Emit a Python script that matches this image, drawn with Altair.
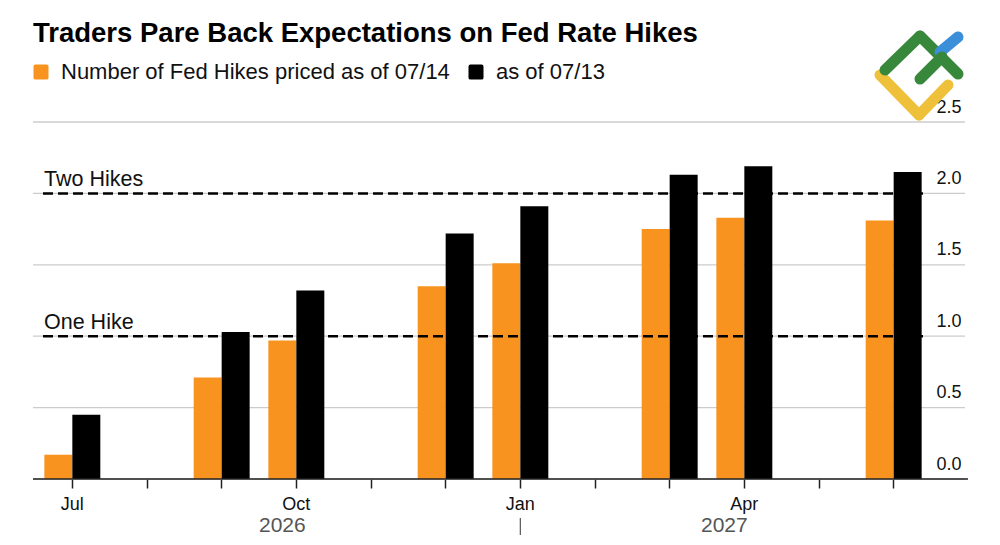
import altair as alt
import pandas as pd

FONT = "Liberation Sans"

title_text = "Traders Pare Back Expectations on Fed Rate Hikes"
series = ["Number of Fed Hikes priced as of 07/14", "as of 07/13"]
colors = ["#F7931E", "#000000"]

months = ["2026-07", "2026-08", "2026-09", "2026-10", "2026-11", "2026-12",
          "2027-01", "2027-02", "2027-03", "2027-04", "2027-05", "2027-06"]
month_labels = {"2026-07": "Jul", "2026-10": "Oct", "2027-01": "Jan", "2027-04": "Apr"}

meeting_months = ["2026-07", "2026-09", "2026-10", "2026-12",
                  "2027-01", "2027-03", "2027-04", "2027-06"]
hikes_0714 = [0.17, 0.71, 0.97, 1.35, 1.51, 1.75, 1.83, 1.81]
hikes_0713 = [0.45, 1.03, 1.32, 1.72, 1.91, 2.13, 2.19, 2.15]

ref_values = [1, 2]
ref_labels = ["One Hike", "Two Hikes"]
y_ticks = [0, 0.5, 1.0, 1.5, 2.0, 2.5]

# decorative logo (pixel segments in plot coordinates)
logo_x1 = [845, 884, 850, 885, 905]
logo_y1 = [-47, -7, -52, -86, -70]
logo_x2 = [884, 913, 885, 923, 923]
logo_y2 = [-7, -37, -86, -48, -85]
logo_c = ["#EFC03A", "#EFC03A", "#37883A", "#37883A", "#3B8ED8"]
logo2_x1 = [885]
logo2_y1 = [-43]
logo2_x2 = [907]
logo2_y2 = [-65]

rows = []
for m, a, b in zip(meeting_months, hikes_0714, hikes_0713):
    rows.append({"month": m, "series": series[0], "value": a})
    rows.append({"month": m, "series": series[1], "value": b})
df = pd.DataFrame(rows)

label_expr = " : ".join(
    f"datum.value == '{k}' ? '{v}'" for k, v in month_labels.items()
) + " : ''"

xscale = alt.Scale(domain=months, range=[0, 896], paddingInner=0, paddingOuter=0)
yscale = alt.Scale(domain=[0, 2.5], nice=False, zero=True)

rounded_square = ("M -0.75,-1 L 0.75,-1 Q 1,-1 1,-0.75 L 1,0.75 Q 1,1 0.75,1 "
                  "L -0.75,1 Q -1,1 -1,0.75 L -1,-0.75 Q -1,-1 -0.75,-1 Z")

grid_df = pd.DataFrame({"value": y_ticks})
grid = alt.Chart(grid_df).mark_rule(color="#cccccc", strokeWidth=1.3).encode(
    y=alt.Y("value:Q", scale=yscale), x=alt.value(-2), x2=alt.value(930))

bars = alt.Chart(df).mark_bar().encode(
    x=alt.X("month:N", scale=xscale, title=None,
            axis=alt.Axis(labelExpr=label_expr, domain=False, grid=False,
                          ticks=True, tickColor="#222222", tickSize=9, tickWidth=1.5,
                          labelFontSize=18, labelColor="#111111", labelAngle=0,
                          labelPadding=7)),
    xOffset=alt.XOffset("series:N", scale=alt.Scale(domain=series, paddingInner=0,
                                                   paddingOuter=0.334)),
    y=alt.Y("value:Q", scale=yscale, title=None,
            axis=alt.Axis(orient="right", values=y_ticks, format=".1f", grid=False,
                          domain=False, ticks=False, tickSize=0, labelFontSize=18,
                          labelColor="#111111", labelAlign="right",
                          labelBaseline="alphabetic", labelPadding=-4,
                          labelOffset=-10, labelFlush=False)),
    color=alt.Color("series:N", scale=alt.Scale(domain=series, range=colors),
                    legend=alt.Legend(orient="none", legendX=-5, legendY=-61,
                                      direction="horizontal", title=None,
                                      symbolType=rounded_square, symbolSize=225,
                                      symbolStrokeWidth=0, labelFontSize=22,
                                      labelColor="#111111", labelOffset=9,
                                      columnPadding=15, padding=0, labelLimit=600)),
)

ref_df = pd.DataFrame({"value": ref_values, "label": ref_labels})
ref_rules = alt.Chart(ref_df).mark_rule(
    color="#000000", strokeWidth=2.5, strokeDash=[10, 5]
).encode(y=alt.Y("value:Q", scale=yscale), x=alt.value(8), x2=alt.value(888))

ref_text = alt.Chart(ref_df).mark_text(
    align="left", baseline="alphabetic", dy=-7, fontSize=21.5, color="#111111"
).encode(y=alt.Y("value:Q", scale=yscale), x=alt.value(9), text="label:N")

base_df = pd.DataFrame({"value": [0]})
baseline = alt.Chart(base_df).mark_rule(color="#222222", strokeWidth=1.5).encode(
    y=alt.Y("value:Q", scale=yscale), x=alt.value(-2), x2=alt.value(933))

y26 = alt.Chart(pd.DataFrame({"month": ["2026-10"], "label": ["2026"]})).mark_text(
    baseline="alphabetic", dx=-14, fontSize=21, color="#555555"
).encode(x=alt.X("month:N", scale=xscale), y=alt.value(410), text="label:N")

y27 = alt.Chart(pd.DataFrame({"month": ["2027-04"], "label": ["2027"]})).mark_text(
    baseline="alphabetic", dx=-20, fontSize=21, color="#555555"
).encode(x=alt.X("month:N", scale=xscale), y=alt.value(410), text="label:N")

sep = alt.Chart(pd.DataFrame({"month": ["2027-01"]})).mark_rule(
    color="#555555", strokeWidth=1.2
).encode(x=alt.X("month:N", scale=xscale), y=alt.value(396), y2=alt.value(413))

title_mark = alt.Chart(pd.DataFrame({"t": [title_text]})).mark_text(
    align="left", baseline="alphabetic", fontSize=27.5, fontWeight="bold", color="#000000"
).encode(x=alt.value(-2), y=alt.value(-80), text="t:N")

logo_df = pd.DataFrame({"x1": logo_x1, "y1": logo_y1, "x2": logo_x2, "y2": logo_y2,
                        "c": logo_c})
logo = alt.Chart(logo_df).mark_rule(strokeWidth=11, strokeCap="round").encode(
    x=alt.X("x1:Q", scale=None), y=alt.Y("y1:Q", scale=None),
    x2="x2:Q", y2="y2:Q", color=alt.Color("c:N", scale=None))
logo2_df = pd.DataFrame({"x1": logo2_x1, "y1": logo2_y1, "x2": logo2_x2, "y2": logo2_y2})
logo2 = alt.Chart(logo2_df).mark_rule(strokeWidth=11, strokeCap="round",
                                      color="#37883A").encode(
    x=alt.X("x1:Q", scale=None), y=alt.Y("y1:Q", scale=None),
    x2="x2:Q", y2="y2:Q")

chart = alt.layer(
    grid, bars, ref_rules, ref_text, baseline, y26, y27, sep, title_mark, logo, logo2
).properties(
    width=930, height=357,
    padding={"left": 35, "top": 122, "right": 35, "bottom": 66},
    autosize=alt.AutoSizeParams(type="none"),
).configure(font=FONT).configure_view(stroke=None)

chart.save("out.html", embed_options={"renderer": "svg", "actions": False})
